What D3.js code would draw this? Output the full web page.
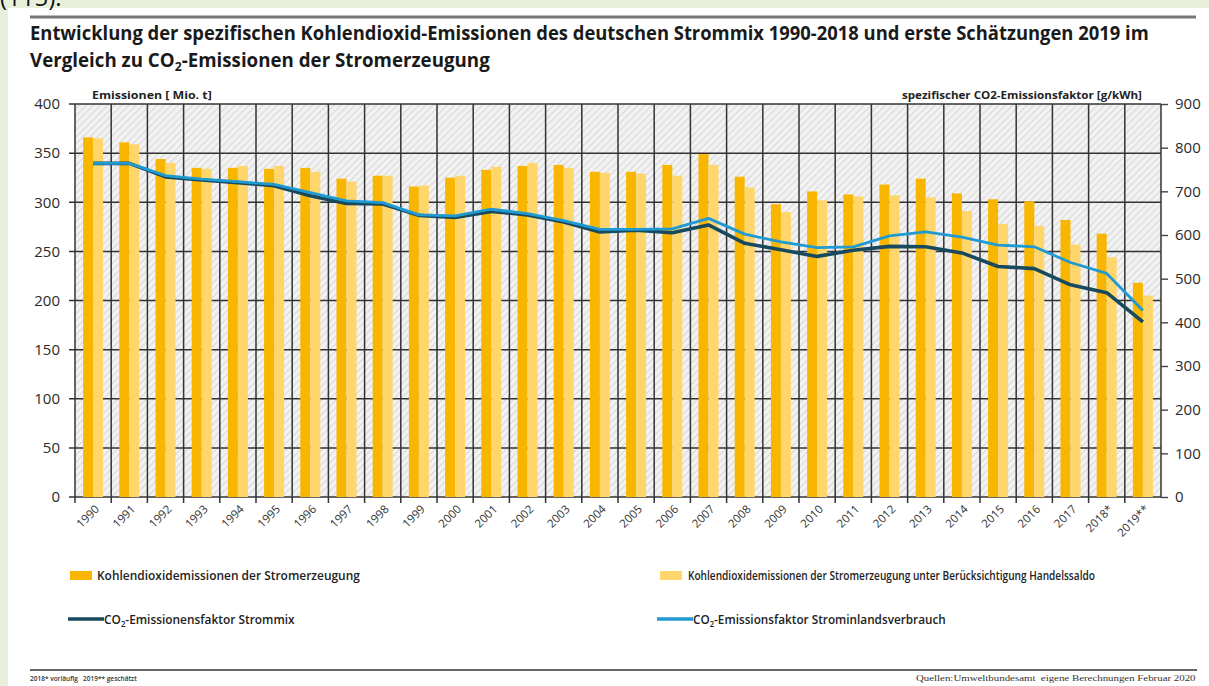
<!DOCTYPE html>
<html>
<head>
<meta charset="utf-8">
<script src="https://cdn.jsdelivr.net/npm/d3@7"></script>
<style>
  body { margin: 0; background: #e8f0dc; }
  svg { display: block; font-family: "Open Sans", "DejaVu Sans", sans-serif; }
</style>
</head>
<body>
<script>
// data
var years = ["1990","1991","1992","1993","1994","1995","1996","1997","1998","1999",
             "2000","2001","2002","2003","2004","2005","2006","2007","2008","2009",
             "2010","2011","2012","2013","2014","2015","2016","2017","2018*","2019**"];
var emissions = [366,361,344,335,335,334,335,324,327,316,
                 325,333,337,338,331,331,338,349,326,298,
                 311,308,318,324,309,303,301,282,268,218];
var emissionsTrade = [365,359,340,334,337,337,331,321,327,317,
                      327,336,340,335,330,329,327,338,315,290,
                      302,306,307,305,291,278,276,257,244,205];
var factorMix = [764,764,733,726,720,713,690,672,671,645,
                 640,654,646,630,607,611,605,623,581,566,
                 551,565,574,573,559,528,523,486,468,401];
var factorInland = [764,764,736,728,722,716,697,678,674,646,
                    644,659,649,633,613,613,614,638,602,584,
                    571,573,598,607,595,577,573,537,512,427];
var leftTicks = [0,50,100,150,200,250,300,350,400];
var rightTicks = [0,100,200,300,400,500,600,700,800,900];

var W = 1209, H = 686;
var plot = {left: 75, right: 1161, top: 104, bottom: 497};

var svg = d3.select("body").append("svg")
    .attr("width", W)
    .attr("height", H);

// squeeze a text horizontally to a given width
function fit(t, x, y, w, anchor) {
  var bw = t.node().getBBox().width;
  var k = w / bw;
  var dx = anchor === "end" ? -w : 0;
  t.attr("x", 0).attr("y", 0)
   .attr("transform", "translate(" + (x + dx) + "," + y + ") scale(" + k + ",1)");
  return t;
}

function co2(t, pre, post, size) {
  t.append("tspan").text(pre);
  t.append("tspan").text("2").attr("font-size", size * 0.65).attr("dy", size * 0.22);
  t.append("tspan").text(post).attr("dy", -size * 0.22);
  return t;
}

// page card
svg.append("rect").attr("x", 8).attr("y", 8).attr("width", W - 8).attr("height", H - 8).attr("fill", "#fff");
svg.append("text").attr("x", 0).attr("y", 6).attr("font-size", 24).attr("fill", "#111").text("(115).");

svg.append("line").attr("x1", 30).attr("x2", 1196).attr("y1", 17).attr("y2", 17)
    .attr("stroke", "#777").attr("stroke-width", 3);

fit(svg.append("text").attr("font-size", 19).attr("font-weight", "bold").attr("fill", "#1a1a1a")
      .text("Entwicklung der spezifischen Kohlendioxid-Emissionen des deutschen Strommix 1990-2018 und erste Schätzungen 2019 im"),
    30, 40, 1120);
fit(co2(svg.append("text").attr("font-size", 19).attr("font-weight", "bold").attr("fill", "#1a1a1a"),
        "Vergleich zu CO", "-Emissionen der Stromerzeugung", 19),
    30, 67, 460);

// scales
var x = d3.scaleBand().domain(years).range([plot.left, plot.right]);
var yL = d3.scaleLinear().domain([0, 400]).range([plot.bottom, plot.top]);
var yR = d3.scaleLinear().domain([0, 900]).range([plot.bottom, plot.top]);

// hatched background
var defs = svg.append("defs");
var pat = defs.append("pattern").attr("id", "hatch").attr("patternUnits", "userSpaceOnUse")
    .attr("width", 5).attr("height", 5).attr("patternTransform", "rotate(45)");
pat.append("rect").attr("width", 5).attr("height", 5).attr("fill", "#f2f2f2");
pat.append("line").attr("x1", 0).attr("x2", 0).attr("y1", 0).attr("y2", 5)
    .attr("stroke", "#d2d2d2").attr("stroke-width", 1.7);

svg.append("rect").attr("x", plot.left).attr("y", plot.top)
    .attr("width", plot.right - plot.left).attr("height", plot.bottom - plot.top)
    .attr("fill", "url(#hatch)");

// grid
var grid = svg.append("g").attr("stroke", "#333").attr("stroke-width", 1.5);
grid.selectAll("line.h").data(leftTicks).enter().append("line")
    .attr("x1", plot.left - 6).attr("x2", plot.right)
    .attr("y1", function(d) { return yL(d); }).attr("y2", function(d) { return yL(d); });
grid.selectAll("line.v").data(years).enter().append("line")
    .attr("x1", function(d) { return x(d); }).attr("x2", function(d) { return x(d); })
    .attr("y1", plot.top).attr("y2", plot.bottom + 6);
grid.append("line").attr("x1", plot.right).attr("x2", plot.right)
    .attr("y1", plot.top).attr("y2", plot.bottom);

// right axis ticks
svg.append("g")
    .attr("transform", "translate(" + plot.right + ",0)")
    .call(d3.axisRight(yR).tickValues(rightTicks).tickSize(7).tickPadding(7))
    .call(function(g) { g.select(".domain").remove(); })
    .call(function(g) {
      g.selectAll("line").attr("stroke", "#444").attr("stroke-width", 1.4);
      g.selectAll("text").attr("font-size", 15).attr("fill", "#2a2a2a")
       .attr("font-family", "Open Sans, sans-serif");
    });

// left axis labels
svg.append("g")
    .attr("transform", "translate(" + (plot.left - 6) + ",0)")
    .call(d3.axisLeft(yL).tickValues(leftTicks).tickSize(0).tickPadding(9))
    .call(function(g) { g.select(".domain").remove(); })
    .call(function(g) {
      g.selectAll("text").attr("font-size", 15).attr("fill", "#2a2a2a")
       .attr("font-family", "Open Sans, sans-serif");
    });

// bars
var bw = 10;
svg.append("g").selectAll("rect").data(emissions).enter().append("rect")
    .attr("x", function(d, i) { return x(years[i]) + x.bandwidth() / 2 - bw; })
    .attr("y", function(d) { return yL(d); })
    .attr("width", bw)
    .attr("height", function(d) { return yL(0) - yL(d); })
    .attr("fill", "#f8b600");
svg.append("g").selectAll("rect").data(emissionsTrade).enter().append("rect")
    .attr("x", function(d, i) { return x(years[i]) + x.bandwidth() / 2; })
    .attr("y", function(d) { return yL(d); })
    .attr("width", bw)
    .attr("height", function(d) { return yL(0) - yL(d); })
    .attr("fill", "#fed66c");

// lines
var line = d3.line()
    .x(function(d, i) { return x(years[i]) + x.bandwidth() / 2; })
    .y(function(d) { return yR(d); });

svg.append("path").datum(factorMix).attr("d", line).attr("fill", "none")
    .attr("stroke", "#174a5f").attr("stroke-width", 3.6).attr("stroke-linejoin", "round");
svg.append("path").datum(factorInland).attr("d", line).attr("fill", "none")
    .attr("stroke", "#1f9ad3").attr("stroke-width", 2.8).attr("stroke-linejoin", "round");

// x labels
svg.append("g").selectAll("text").data(years).enter().append("text")
    .attr("transform", function(d) {
      return "translate(" + (x(d) + x.bandwidth() / 2 + 4) + "," + (plot.bottom + 10) + ") rotate(-45)";
    })
    .attr("text-anchor", "end")
    .attr("dy", "0.35em")
    .attr("font-size", 11.5)
    .attr("fill", "#333")
    .text(function(d) { return d; });

// axis titles
fit(svg.append("text").attr("font-size", 11).attr("font-weight", "bold").attr("fill", "#222")
      .text("Emissionen [ Mio. t]"), 92, 99, 120);
fit(svg.append("text").attr("font-size", 11).attr("font-weight", "bold").attr("fill", "#222")
      .text("spezifischer CO2-Emissionsfaktor [g/kWh]"), 1142, 99, 240, "end");

// legend
svg.append("rect").attr("x", 70).attr("y", 571).attr("width", 22).attr("height", 9).attr("fill", "#f8b600");
fit(svg.append("text").attr("font-size", 12.5).attr("font-weight", 600).attr("fill", "#222")
      .text("Kohlendioxidemissionen der Stromerzeugung"), 97, 580, 263);
svg.append("rect").attr("x", 660).attr("y", 571).attr("width", 22).attr("height", 9).attr("fill", "#fed66c");
fit(svg.append("text").attr("font-size", 12.5).attr("font-weight", 600).attr("fill", "#222")
      .text("Kohlendioxidemissionen der Stromerzeugung unter Berücksichtigung Handelssaldo"), 688, 580, 407);

svg.append("line").attr("x1", 68).attr("x2", 104).attr("y1", 619).attr("y2", 619)
    .attr("stroke", "#174a5f").attr("stroke-width", 3.5);
fit(co2(svg.append("text").attr("font-size", 12.5).attr("font-weight", 600).attr("fill", "#222"),
        "CO", "-Emissionensfaktor Strommix", 12.5), 104, 624, 191);
svg.append("line").attr("x1", 657).attr("x2", 693).attr("y1", 619).attr("y2", 619)
    .attr("stroke", "#1f9ad3").attr("stroke-width", 3.5);
fit(co2(svg.append("text").attr("font-size", 12.5).attr("font-weight", 600).attr("fill", "#222"),
        "CO", "-Emissionsfaktor Strominlandsverbrauch", 12.5), 693, 624, 253);

// footer
svg.append("line").attr("x1", 30).attr("x2", 1197).attr("y1", 670).attr("y2", 670)
    .attr("stroke", "#666").attr("stroke-width", 2);
fit(svg.append("text").attr("font-size", 7.5).attr("font-weight", 600).attr("fill", "#333")
      .text("2018* vorläufig   2019** geschätzt").attr("xml:space", "preserve"), 30, 681, 107);
fit(svg.append("text").attr("font-size", 8).attr("fill", "#333")
      .attr("font-family", "Liberation Serif, DejaVu Serif, serif")
      .text("Quellen:Umweltbundesamt  eigene Berechnungen Februar 2020").attr("xml:space", "preserve"),
    1196, 681, 280, "end");
</script>
</body>
</html>
